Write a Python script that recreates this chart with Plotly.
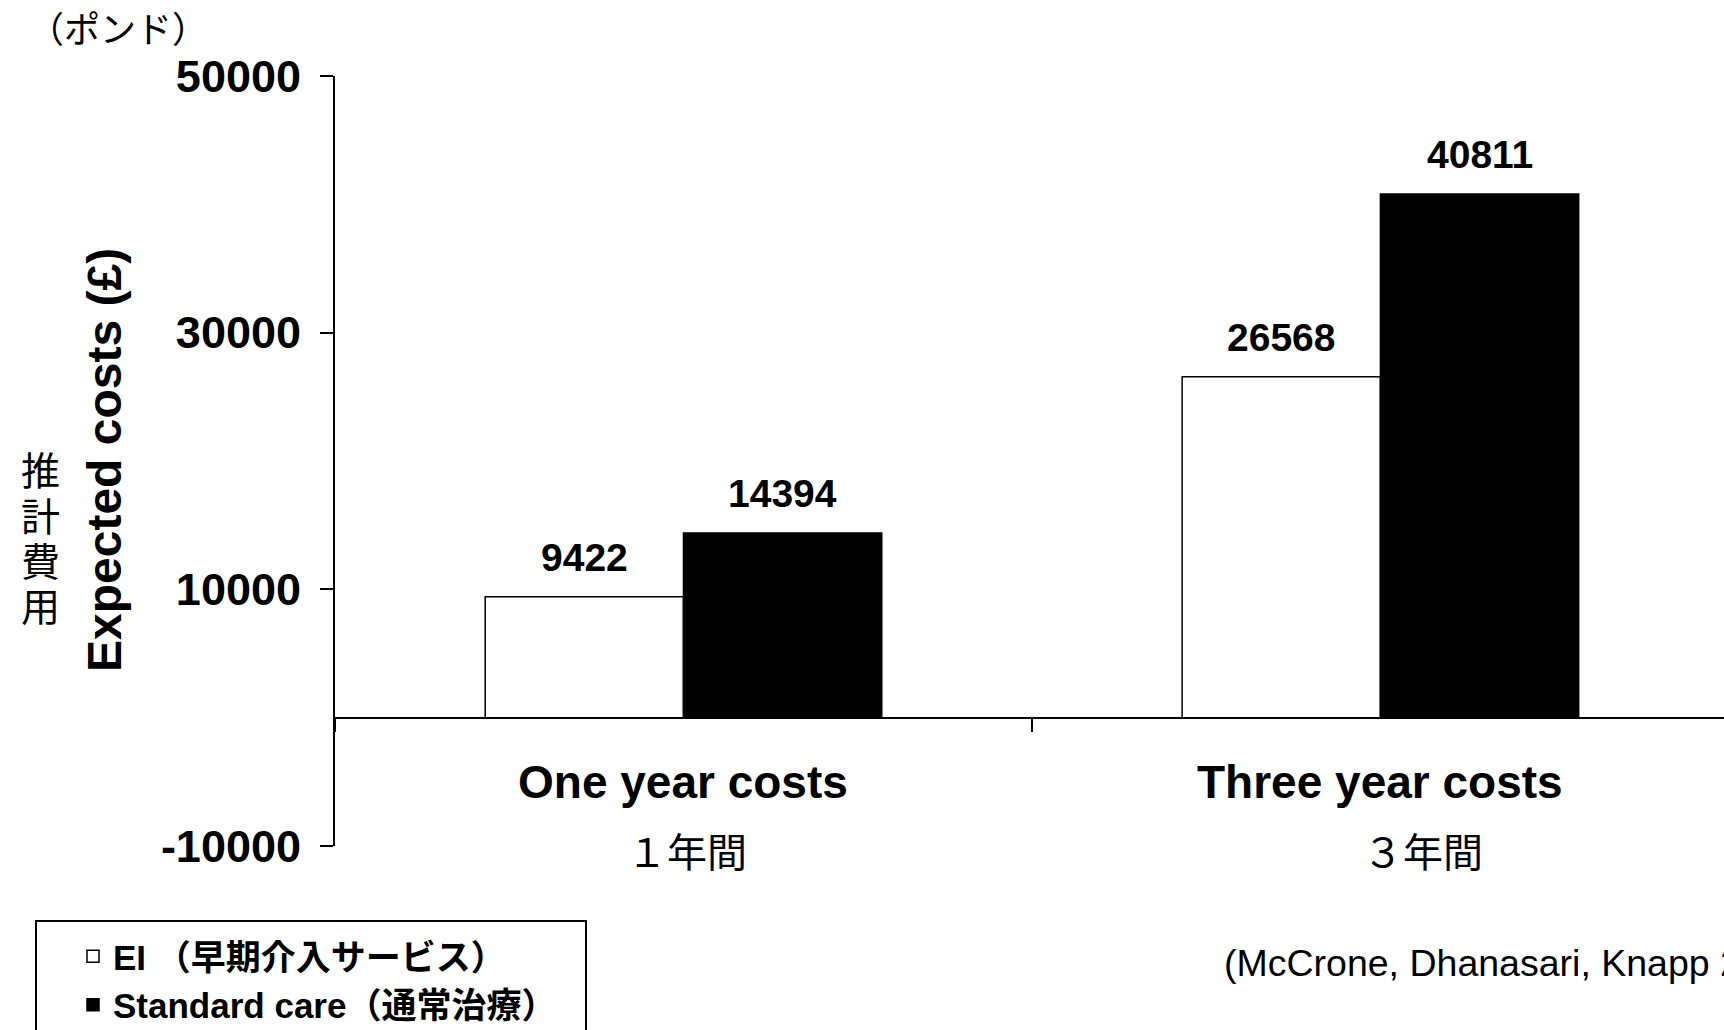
import plotly.graph_objects as go

# ---- data -------------------------------------------------------------
categories = ["One year costs", "Three year costs"]
category_sublabels = ["１年間", "３年間"]
series_names = ["EI （早期介入サービス）", "Standard care（通常治療）"]
ei_costs = [9422, 26568]
standard_costs = [14394, 40811]
y_ticks = [-10000, 10000, 30000, 50000]
y_tick_labels = ["-10000", "10000", "30000", "50000"]
y_title = "Expected costs (£)"
y_title_ja = "推計費用"
unit_label = "（ポンド）"
citation = "(McCrone, Dhanasari, Knapp 2009)"

# ---- figure geometry --------------------------------------------------
W, H = 1724, 1030
M_L, M_R, M_T, M_B = 335, 0, 76, 184
PW, PH = W - M_L - M_R, H - M_T - M_B
Y_MIN, Y_MAX = -10000, 50000
X_RANGE = [-0.5, 1.493]
BAR_GAP = 0.431
LATIN = "Liberation Sans, Arial, Noto Sans CJK JP"
CJK = "Noto Sans CJK JP, Liberation Sans"


def px_to_paper_x(px):
    return (px - M_L) / PW


def px_to_paper_y(py):
    return (H - M_B - py) / PH


fig = go.Figure()
fig.add_trace(go.Bar(
    name=series_names[0], x=categories, y=ei_costs,
    marker=dict(color="white", line=dict(color="black", width=1.5)),
))
fig.add_trace(go.Bar(
    name=series_names[1], x=categories, y=standard_costs,
    marker=dict(color="black", line=dict(color="black", width=1.5)),
))

# value labels above each bar
half_bar = (1 - BAR_GAP) / 4
annotations = []
for i in range(len(categories)):
    for offset, vals in ((-half_bar, ei_costs), (half_bar, standard_costs)):
        annotations.append(dict(
            x=i + offset, y=vals[i], xref="x", yref="y",
            text=f"<b>{vals[i]}</b>", showarrow=False,
            yanchor="bottom", yshift=16,
            font=dict(family=LATIN, size=39, color="black"),
        ))

# two-line category labels under the zero line
sub_shift = [4, 43]
for i, (cat, sub) in enumerate(zip(categories, category_sublabels)):
    annotations.append(dict(
        x=i, y=px_to_paper_y(782), xref="x", yref="paper",
        text=f"<b>{cat}</b>", showarrow=False, yanchor="middle",
        font=dict(family=LATIN, size=46, color="black"),
    ))
    annotations.append(dict(
        x=i, y=px_to_paper_y(850), xref="x", yref="paper", xshift=sub_shift[i],
        text=sub, showarrow=False, yanchor="middle",
        font=dict(family=CJK, size=40, color="black"),
    ))

# axis titles
annotations.append(dict(
    x=px_to_paper_x(104), y=px_to_paper_y(460), xref="paper", yref="paper",
    text=f"<b>{y_title}</b>", textangle=-90, showarrow=False,
    xanchor="center", yanchor="middle",
    font=dict(family=LATIN, size=48, color="black"),
))
# vertical Japanese caption, one character per row
for k, ch in enumerate(y_title_ja):
    annotations.append(dict(
        x=px_to_paper_x(40), y=px_to_paper_y(468 + 45.5 * k),
        xref="paper", yref="paper", text=ch, showarrow=False,
        xanchor="center", yanchor="middle",
        font=dict(family=CJK, size=39, color="black"),
    ))
annotations.append(dict(
    x=px_to_paper_x(26), y=px_to_paper_y(27), xref="paper", yref="paper",
    text=unit_label, showarrow=False, xanchor="left", yanchor="middle",
    font=dict(family=CJK, size=36, color="black"),
))
annotations.append(dict(
    x=px_to_paper_x(1222), y=px_to_paper_y(963), xref="paper", yref="paper",
    text=citation, showarrow=False, xanchor="left", yanchor="middle",
    font=dict(family=LATIN, size=37.5, color="black"),
))

fig.update_layout(
    width=W, height=H,
    margin=dict(l=M_L, r=M_R, t=M_T, b=M_B, autoexpand=False),
    paper_bgcolor="white", plot_bgcolor="white",
    barmode="group", bargap=BAR_GAP, bargroupgap=0,
    showlegend=True,
    legend=dict(
        x=px_to_paper_x(73), y=px_to_paper_y(927),
        xanchor="left", yanchor="top",
        bgcolor="rgba(0,0,0,0)", borderwidth=0,
        font=dict(family=LATIN, size=35, color="black", weight="bold"),
        traceorder="normal",
    ),
    annotations=annotations,
    shapes=[dict(
        type="rect", xref="paper", yref="paper",
        x0=px_to_paper_x(36), x1=px_to_paper_x(586),
        y0=px_to_paper_y(921), y1=px_to_paper_y(1060),
        line=dict(color="black", width=2), fillcolor="rgba(0,0,0,0)",
    )],
    xaxis=dict(
        type="category", range=X_RANGE,
        anchor="free", position=(0 - Y_MIN) / (Y_MAX - Y_MIN),
        showline=True, linecolor="black", linewidth=2,
        ticks="outside", tickson="boundaries", ticklen=13,
        tickcolor="black", tickwidth=2,
        showticklabels=False, showgrid=False, zeroline=False,
    ),
    yaxis=dict(
        range=[Y_MIN, Y_MAX], tickvals=y_ticks, ticktext=y_tick_labels,
        showline=True, linecolor="black", linewidth=2,
        ticks="outside", ticklen=13, tickcolor="black", tickwidth=2,
        ticklabelstandoff=10,
        tickfont=dict(family=LATIN, size=45, color="black", weight="bold"),
        showgrid=False, zeroline=False,
    ),
)

fig.write_html("out.html")
